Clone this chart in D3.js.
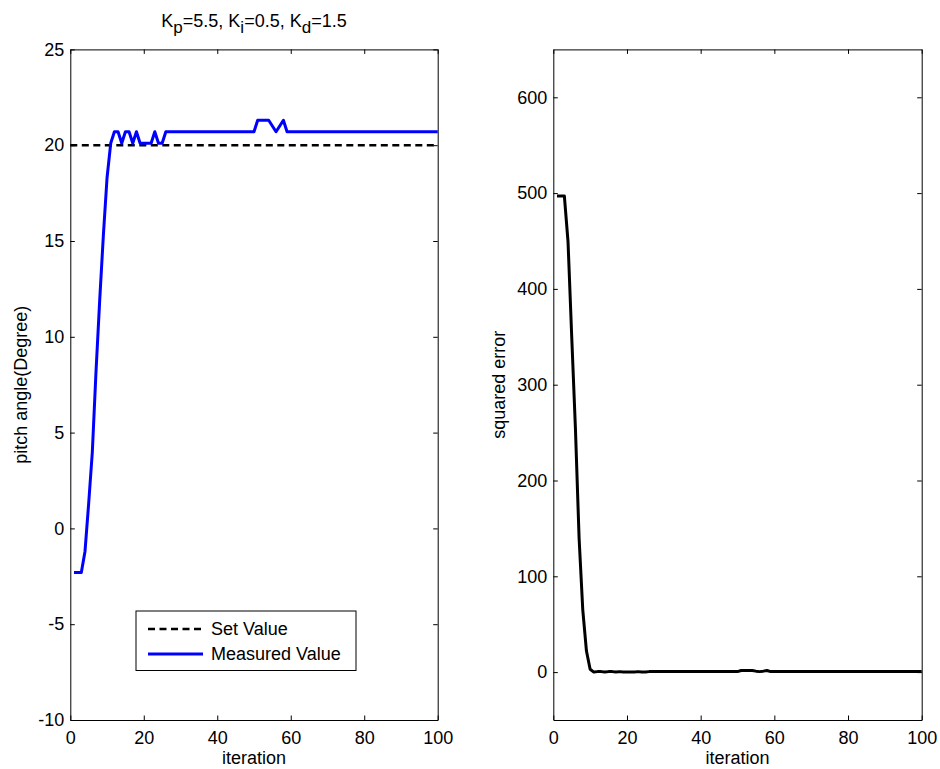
<!DOCTYPE html>
<html><head><meta charset="utf-8">
<script src="https://cdn.jsdelivr.net/npm/d3@7"></script>
<style>body{margin:0;background:#fff} text{font-family:"Liberation Sans",Arial,sans-serif}</style>
</head><body><svg id="c" width="940" height="769"></svg>
<script>
const measured = [
  -2.3,-2.3,-2.3,-1.2,1.3,4.0,8.2,11.9,15.3,18.3,
  20.1,20.7,20.7,20.1,20.7,20.7,20.1,20.7,20.1,20.1,
  20.1,20.1,20.7,20.1,20.1,20.7,20.7,20.7,20.7,20.7,
  20.7,20.7,20.7,20.7,20.7,20.7,20.7,20.7,20.7,20.7,
  20.7,20.7,20.7,20.7,20.7,20.7,20.7,20.7,20.7,20.7,
  21.3,21.3,21.3,21.3,21.0,20.7,21.0,21.3,20.7,20.7,
  20.7,20.7,20.7,20.7,20.7,20.7,20.7,20.7,20.7,20.7,
  20.7,20.7,20.7,20.7,20.7,20.7,20.7,20.7,20.7,20.7,
  20.7,20.7,20.7,20.7,20.7,20.7,20.7,20.7,20.7,20.7,
  20.7,20.7,20.7,20.7,20.7,20.7,20.7,20.7,20.7,20.7
];
const squaredError = [
  497,497,497,449,350,255,140,65,22,3,
  0.01,0.5,0.5,0.01,0.5,0.5,0.01,0.5,0.01,0.01,
  0.01,0.01,0.5,0.01,0.01,0.5,0.5,0.5,0.5,0.5,
  0.5,0.5,0.5,0.5,0.5,0.5,0.5,0.5,0.5,0.5,
  0.5,0.5,0.5,0.5,0.5,0.5,0.5,0.5,0.5,0.5,
  1.7,1.7,1.7,1.7,1.0,0.5,1.0,1.7,0.5,0.5,
  0.5,0.5,0.5,0.5,0.5,0.5,0.5,0.5,0.5,0.5,
  0.5,0.5,0.5,0.5,0.5,0.5,0.5,0.5,0.5,0.5,
  0.5,0.5,0.5,0.5,0.5,0.5,0.5,0.5,0.5,0.5,
  0.5,0.5,0.5,0.5,0.5,0.5,0.5,0.5,0.5,0.5
];
const setValue = 20;
const xTicks = [0,20,40,60,80,100];
const leftYTicks = [-10,-5,0,5,10,15,20,25];
const rightYTicks = [0,100,200,300,400,500,600];
const legendLabels = ["Set Value","Measured Value"];
const xLabel = "iteration";
const leftYLabel = "pitch angle(Degree)";
const rightYLabel = "squared error";

const svg = d3.select("#c");
const FS = 18;
const plotTop = 49.4, plotBottom = 720;
const fmt = d => String(d);

function axes(x, y, yTicks) {
  const g = svg.append("g");
  const styleAxis = sel => { sel.attr("font-size", FS).attr("font-family", "Liberation Sans, Arial, sans-serif");
    sel.selectAll("line").attr("stroke", "#000"); sel.selectAll("path").attr("stroke", "#000"); sel.selectAll("text").attr("fill", "#000"); };
  g.append("g").attr("transform", `translate(0,${plotBottom})`)
    .call(d3.axisBottom(x).tickValues(xTicks).tickFormat(fmt).tickSize(-4.5).tickSizeOuter(0).tickPadding(11)).call(styleAxis);
  g.append("g").attr("transform", `translate(0,${plotTop})`)
    .call(d3.axisTop(x).tickValues(xTicks).tickSize(-4.5).tickSizeOuter(0).tickFormat("")).call(styleAxis);
  g.append("g").attr("transform", `translate(${x.range()[0]},0)`)
    .call(d3.axisLeft(y).tickValues(yTicks).tickFormat(fmt).tickSize(-4.5).tickSizeOuter(0).tickPadding(6)).call(styleAxis);
  g.append("g").attr("transform", `translate(${x.range()[1]},0)`)
    .call(d3.axisRight(y).tickValues(yTicks).tickSize(-4.5).tickSizeOuter(0).tickFormat("")).call(styleAxis);
  return g;
}

// Left plot
const xL = d3.scaleLinear().domain([0,100]).range([70.3, 437.7]);
const yL = d3.scaleLinear().domain([-10,25]).range([plotBottom, plotTop]);
const lineL = d3.line().x((d,i)=>xL(i+1)).y(d=>yL(d));
svg.append("path").datum([{it:xL.domain()[0], v:setValue},{it:xL.domain()[1], v:setValue}])
  .attr("d", d3.line().x(d=>xL(d.it)).y(d=>yL(d.v)))
  .attr("stroke", "#000").attr("stroke-width", 2.5).attr("stroke-dasharray", "7,4.5").attr("fill", "none");
svg.append("path").datum(measured).attr("d", lineL)
  .attr("stroke", "#0000ff").attr("stroke-width", 3).attr("fill", "none").attr("stroke-linejoin", "round");
axes(xL, yL, leftYTicks);

// Right plot
const xR = d3.scaleLinear().domain([0,100]).range([553.3, 921.7]);
const yR = d3.scaleLinear().domain([-50,650]).range([plotBottom, plotTop]);
const lineR = d3.line().x((d,i)=>xR(i+1)).y(d=>yR(d));
svg.append("path").datum(squaredError).attr("d", lineR)
  .attr("stroke", "#000").attr("stroke-width", 3).attr("fill", "none").attr("stroke-linejoin", "round");
axes(xR, yR, rightYTicks);

// Axis labels
svg.append("text").attr("x", (xL.range()[0]+xL.range()[1])/2).attr("y", 764).attr("text-anchor","middle").attr("font-size",FS).text(xLabel);
svg.append("text").attr("x", (xR.range()[0]+xR.range()[1])/2).attr("y", 764).attr("text-anchor","middle").attr("font-size",FS).text(xLabel);
svg.append("text").attr("transform", `translate(27,${(plotTop+plotBottom)/2}) rotate(-90)`).attr("text-anchor","middle").attr("font-size",FS).text(leftYLabel);
svg.append("text").attr("transform", `translate(505,${(plotTop+plotBottom)/2}) rotate(-90)`).attr("text-anchor","middle").attr("font-size",FS).text(rightYLabel);

// Title with subscripts
const title = svg.append("text").attr("x", (xL.range()[0]+xL.range()[1])/2).attr("y", 27).attr("text-anchor","middle").attr("font-size",FS);
const parts = [["K",""],["p","sub"],["=5.5, K",""],["i","sub"],["=0.5, K",""],["d","sub"],["=1.5",""]];
parts.forEach(([t, kind]) => {
  const ts = title.append("tspan").text(t);
  if (kind === "sub") ts.attr("dy", 6).attr("font-size", 17);
  else if (t !== "K") ts.attr("dy", -6);
});

// Legend
const lg = svg.append("g");
lg.append("rect").attr("x",136).attr("y",611).attr("width",220).attr("height",59.5).attr("fill","#fff").attr("stroke","#000").attr("stroke-width",1);
const rows = [{label:legendLabels[0], stroke:"#000", dash:"7,4.5", w:2.5},{label:legendLabels[1], stroke:"#0000ff", dash:null, w:3}];
rows.forEach((r,i) => {
  const cy = 629 + i*25;
  lg.append("line").attr("x1",148).attr("x2",203).attr("y1",cy).attr("y2",cy).attr("stroke",r.stroke).attr("stroke-width",r.w).attr("stroke-dasharray",r.dash);
  lg.append("text").attr("x",211).attr("y",cy).attr("dy","0.36em").attr("font-size",FS).text(r.label);
});
</script></body></html>
